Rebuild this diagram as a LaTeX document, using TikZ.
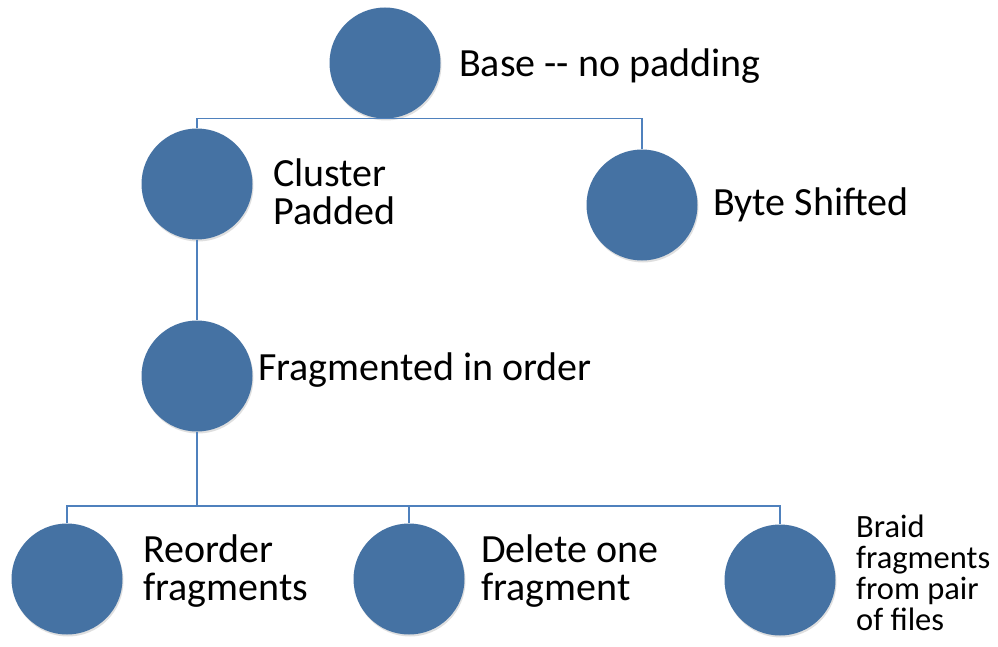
\documentclass[tikz,border=0pt]{standalone}
\usepackage{fontspec}
\setmainfont{Carlito}
\usetikzlibrary{shadows}
\definecolor{circ}{RGB}{69,114,163}
\definecolor{conn}{RGB}{79,129,189}
\begin{document}
\begin{tikzpicture}[x=1pt,y=-1pt,
  dot/.style={circle,minimum size=111pt,inner sep=0pt,fill=circ,draw=none,
    drop shadow={opacity=0.25,shadow xshift=1pt,shadow yshift=-2pt}},
  conn/.style={draw=conn,line width=1.2pt},
  lbl/.style={anchor=base west,inner sep=0pt,align=left,font=\fontsize{40}{38}\selectfont},
  small/.style={anchor=base west,inner sep=0pt,align=left,font=\fontsize{32.5}{31}\selectfont}]
\useasboundingbox (0,0) rectangle (998,647);
\node[dot] (base) at (385,63) {};
\node[dot] (cluster) at (197,184) {};
\node[dot] (byte) at (642,205) {};
\node[dot] (frag) at (197,376) {};
\node[dot] (reorder) at (67,579) {};
\node[dot] (delete) at (409,579) {};
\node[dot] (braid) at (780,580) {};
\coordinate (j2) at (197,506);
\draw[conn] (cluster.north) |- (base.south) -| (byte.north);
\draw[conn] (cluster.south) -- (frag.north);
\draw[conn] (frag.south) -- (j2);
\draw[conn] (reorder.north) |- (j2) -| (braid.north);
\draw[conn] (delete.north) -- (delete.north |- j2);
\node[lbl] (tbase) at (459,77) {Base {-}{-} no padding};
\node[lbl] (tcluster) at (273,225) {Cluster\\Padded};
\node[lbl] (tbyte) at (713,215) {Byte Shifted};
\node[lbl] (tfrag) at (258,380) {Fragmented in order};
\node[lbl] (treorder) at (143,600) {Reorder\\fragments};
\node[lbl] (tdelete) at (481,600) {Delete one\\fragment};
\node[small] (tbraid) at (856,630) {Braid\\fragments\\from pair\\of files};
\end{tikzpicture}
\end{document}
